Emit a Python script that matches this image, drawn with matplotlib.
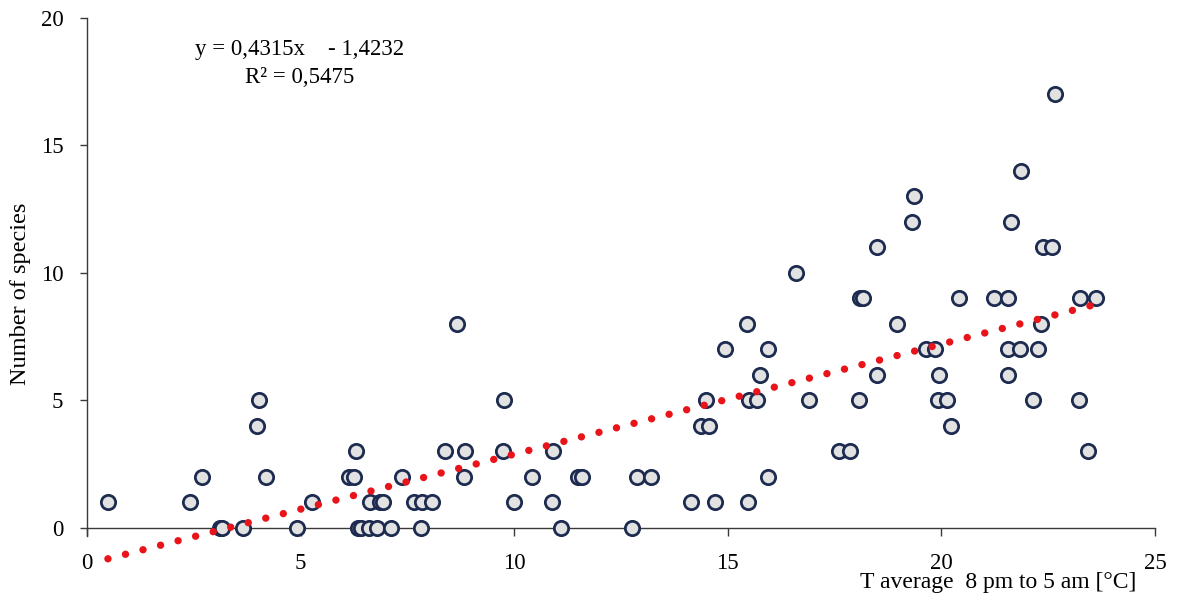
import matplotlib
matplotlib.use("Agg")
import matplotlib.pyplot as plt
import numpy as np

# night-time mean temperature (°C) and species count per sampling night
temp_c = [
    # 0 species
    3.11, 3.16, 3.65, 4.92, 6.35, 6.42, 6.60, 6.79, 7.12, 7.82, 11.10, 12.76,
    # 1
    0.49, 2.41, 5.27, 6.63, 6.86, 6.93, 7.66, 7.85, 8.08, 10.00, 10.89, 14.15, 14.71, 15.48,
    # 2
    2.69, 4.19, 6.14, 6.25, 7.38, 8.83, 10.42, 11.50, 11.59, 12.88, 13.21, 15.95,
    # 3
    6.30, 8.38, 8.85, 9.74, 10.91, 17.61, 17.87, 23.44,
    # 4
    3.98, 14.38, 14.57, 20.23,
    # 5
    4.03, 9.77, 14.50, 15.50, 15.69, 16.89, 18.06, 19.93, 20.12, 22.15, 23.23,
    # 6
    15.76, 18.50, 19.95, 21.55,
    # 7
    14.94, 15.95, 19.65, 19.86, 21.55, 21.85, 22.27,
    # 8
    8.67, 15.46, 18.97, 22.34,
    # 9
    18.10, 18.17, 20.42, 21.22, 21.55, 23.25, 23.61,
    # 10-17
    16.60, 18.50, 22.39, 22.60, 19.32, 21.62, 19.37, 21.87, 22.65,
]
species = (
    [0] * 12 + [1] * 14 + [2] * 12 + [3] * 8 + [4] * 4 + [5] * 11 + [6] * 4
    + [7] * 7 + [8] * 4 + [9] * 7 + [10, 11, 11, 11, 12, 12, 13, 14, 17]
)

# linear trend as reported
slope = 0.4315
intercept = -1.4232
r_squared = 0.5475

x_ticks = [0, 5, 10, 15, 20, 25]
y_ticks = [0, 5, 10, 15, 20]

plt.rcParams['font.family'] = ['Liberation Serif', 'DejaVu Serif']
axis_color = '#3a3a3a'

fig = plt.figure(figsize=(11.77, 5.99), dpi=100)
ax = fig.add_axes([0.0739, 0.0506, 0.9074, 0.9194])

x = np.array(temp_c)
y = np.array(species)

ax.plot(x, y, linestyle='none', marker='o', markersize=10.3,
        markerfacecolor='#e2e2e2', markeredgecolor='#1c2b4f',
        markeredgewidth=2.0, zorder=3)

xs = np.linspace(x.min(), x.max(), 200)
ax.plot(xs, slope * xs + intercept, color='#e8141a', linewidth=5.3,
        linestyle=(0, (0.01, 2.45)), dash_capstyle='round', zorder=4)

ax.set_xlim(0, 25)
ax.set_ylim(-1.6, 20)
ax.set_xticks(x_ticks)
ax.set_yticks(y_ticks)
ax.set_xticklabels([str(t) for t in x_ticks])
ax.set_yticklabels([str(t) for t in y_ticks])

for side in ['top', 'right']:
    ax.spines[side].set_visible(False)
ax.spines['bottom'].set_position(('data', 0))
ax.spines['left'].set_bounds(-0.3, 20)
for side in ['bottom', 'left']:
    ax.spines[side].set_color(axis_color)
    ax.spines[side].set_linewidth(1.0)

ax.tick_params(axis='x', direction='out', length=6, width=1.0,
               color=axis_color, pad=12, labelsize=16.5)
ax.tick_params(axis='y', direction='out', length=5, width=1.0,
               color=axis_color, pad=12, labelsize=16.5)

ax.set_ylabel('Number of species', fontsize=17.5)
ax.yaxis.set_label_coords(-0.052, 0.5)

fig.text(0.848, 0.027, 'T average  8 pm to 5 am [°C]', fontsize=17,
         ha='center', va='center')

eq = f"y = {slope:.4f}x    - {abs(intercept):.4f}".replace('.', ',')
r2 = f"R² = {r_squared:.4f}".replace('.', ',')
ax.text(0.199, 0.942, eq, transform=ax.transAxes, fontsize=16.5,
        ha='center', va='center')
ax.text(0.199, 0.891, r2, transform=ax.transAxes, fontsize=16.5,
        ha='center', va='center')

fig.savefig('out.png', dpi=100)
